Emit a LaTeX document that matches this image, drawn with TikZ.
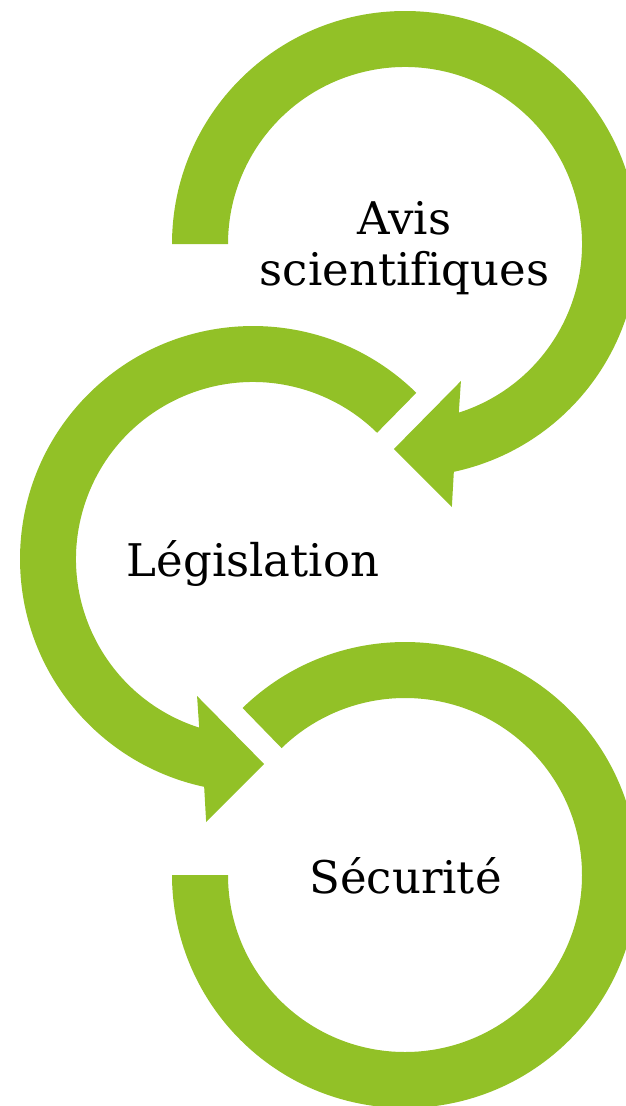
\documentclass[tikz,border=0pt]{standalone}
\usepackage{fontspec}
\setmainfont{DejaVu Serif}[Ligatures=NoCommon]
\definecolor{arrowgreen}{RGB}{146,193,39}
\begin{document}
\begin{tikzpicture}[x=1pt,y=-1pt,
  arrowband/.style={fill=arrowgreen,draw=none},
  steplabel/.style={inner sep=0pt,anchor=base,text=black,font=\fontsize{45}{51}\selectfont}]
\useasboundingbox (0,0) rectangle (626,1106);
\clip (0,0) rectangle (626,1106);
% arrow 1 (clockwise, centre 405,244)
\begin{scope}[shift={(405,244)}]
  \fill[arrowband] (180:233) arc[start angle=180,end angle=437.9,radius=233]
    -- (79.9:267.2) -- (93.1:205.3) -- (67.8:148) -- (72.3:177)
    arc[start angle=432.3,end angle=180,radius=177] -- cycle;
\end{scope}
% arrow 2 (counter-clockwise, centre 253,559)
\begin{scope}[shift={(253,559)}]
  \fill[arrowband] (-45.5:233) arc[start angle=-45.5,end angle=-257.9,radius=233]
    -- (100.1:267.2) -- (86.9:205.3) -- (112.2:148) -- (107.7:177)
    arc[start angle=107.7,end angle=314.5,radius=177] -- cycle;
\end{scope}
% arrow 3 (clockwise, centre 405,875)
\begin{scope}[shift={(405,875)}]
  \fill[arrowband] (225.8:233) arc[start angle=225.8,end angle=540,radius=233]
    -- (540:177) arc[start angle=540,end angle=225.8,radius=177] -- cycle;
\end{scope}
\node[steplabel] (avis) at (404.5,234) {Avis};
\node[steplabel] (sci) at (404.5,285) {scientifiques};
\node[steplabel] (leg) at (253,576) {Législation};
\node[steplabel] (sec) at (405.5,893) {Sécurité};
\end{tikzpicture}
\end{document}
